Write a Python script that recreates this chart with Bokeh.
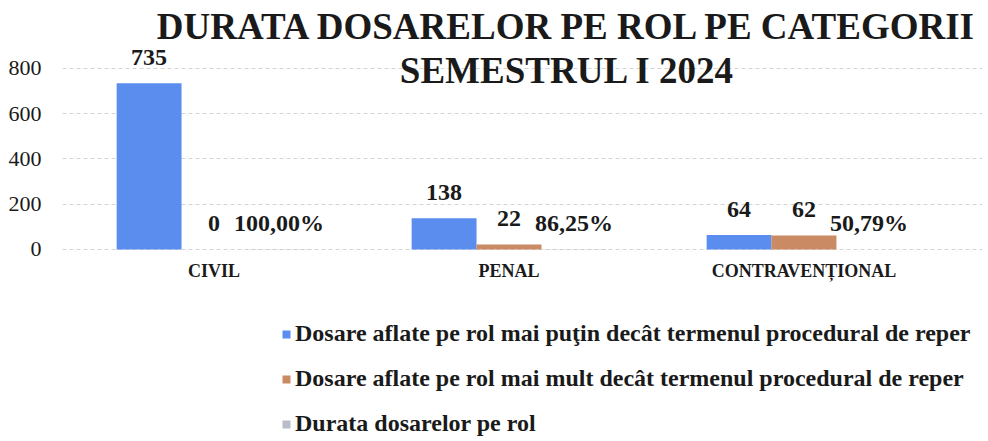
from bokeh.plotting import figure
from bokeh.models import (Range1d, FixedTicker, Label, Legend,
                          LegendItem, ColumnDataSource)
from bokeh.core.properties import value
from bokeh.embed import file_html
from bokeh.resources import INLINE

# ---- data ----
categories = ["CIVIL", "PENAL", "CONTRAVENȚIONAL"]
sub_termen = [735, 138, 64]
peste_termen = [0, 22, 62]
durata_pct = [100.00, 86.25, 50.79]
series_names = [
    "Dosare aflate pe rol mai puţin decât termenul procedural de reper",
    "Dosare aflate pe rol mai mult decât termenul procedural de reper",
    "Durata dosarelor pe rol",
]
y_ticks = [0, 200, 400, 600, 800]
title_lines = ["DURATA DOSARELOR PE ROL PE CATEGORII", "SEMESTRUL I 2024"]

colors = ["#5B8DEF", "#C98A64", "#B9BDC9"]
FONT = "Liberation Serif"

# category positions on a numeric axis (one unit per category)
cat_pos = [i + 0.5 for i in range(len(categories))]
bw = 0.22
offs = [-bw, 0.0, bw]

source = ColumnDataSource(dict(
    x1=[c + offs[0] for c in cat_pos],
    x2=[c + offs[1] for c in cat_pos],
    x3=[c + offs[2] for c in cat_pos],
    s1=sub_termen,
    s2=peste_termen,
    s3=[v / 100.0 for v in durata_pct],
    l1=[str(v) for v in sub_termen],
    l2=[str(v) for v in peste_termen],
    l3=[("%.2f%%" % v).replace(".", ",") for v in durata_pct],
))

p = figure(
    x_range=Range1d(-0.01356, 3.1051),
    y_range=Range1d(-844.2, 1100.5),
    width=984, height=440,
    frame_width=920, frame_height=440,
    min_border_left=62, min_border_right=2, min_border_top=0, min_border_bottom=0,
    output_backend="svg", toolbar_location=None,
)
p.outline_line_color = None
p.background_fill_color = "white"

renderers = []
for i, c in enumerate(colors):
    r = p.vbar(x="x%d" % (i + 1), top="s%d" % (i + 1), width=bw,
               source=source, fill_color=c, line_color=None)
    renderers.append(r)
    p.text(x="x%d" % (i + 1), y="s%d" % (i + 1), text="l%d" % (i + 1),
           source=source, text_align="center", text_baseline="alphabetic",
           y_offset=-26, text_font=value(FONT), text_font_style="bold",
           text_font_size="24px", text_color="#1a1a1a")

# axes
p.yaxis.ticker = FixedTicker(ticks=y_ticks)
p.yaxis.axis_line_color = None
p.yaxis.major_tick_line_color = None
p.yaxis.minor_tick_line_color = None
p.yaxis.major_label_text_font = FONT
p.yaxis.major_label_text_font_size = "22px"
p.yaxis.major_label_text_color = "#1a1a1a"
p.yaxis.major_label_standoff = 15

p.xaxis.ticker = FixedTicker(ticks=cat_pos)
p.xaxis.major_label_overrides = {pos: name for pos, name in zip(cat_pos, categories)}
p.xaxis.fixed_location = 0
p.xaxis.axis_line_color = None
p.xaxis.major_tick_line_color = None
p.xaxis.minor_tick_line_color = None
p.xaxis.major_label_text_font = FONT
p.xaxis.major_label_text_font_style = "bold"
p.xaxis.major_label_text_font_size = "18px"
p.xaxis.major_label_text_color = "#1a1a1a"
p.xaxis.major_label_standoff = 6

p.xgrid.grid_line_color = None
p.ygrid.grid_line_color = "#d4d4d4"
p.ygrid.grid_line_dash = "4 3"

# title as labels
for line, ypos in zip(title_lines, [985, 790]):
    p.add_layout(Label(x=1.698, y=ypos, text=line, text_align="center",
                       text_baseline="alphabetic", text_font=FONT,
                       text_font_style="bold", text_font_size="37px",
                       text_color="#1a1a1a"))

legend = Legend(
    items=[LegendItem(label=n, renderers=[r]) for n, r in zip(series_names, renderers)],
    location=(219, 2), orientation="vertical",
    glyph_width=10, glyph_height=10, label_standoff=4, label_height=29,
    label_text_font=FONT, label_text_font_style="bold", label_text_font_size="24px",
    label_text_color="#1a1a1a",
    spacing=16, padding=0, margin=0, border_line_color=None,
    background_fill_alpha=0,
)
p.add_layout(legend, "center")

open("out.html", "w").write(file_html(p, INLINE))
